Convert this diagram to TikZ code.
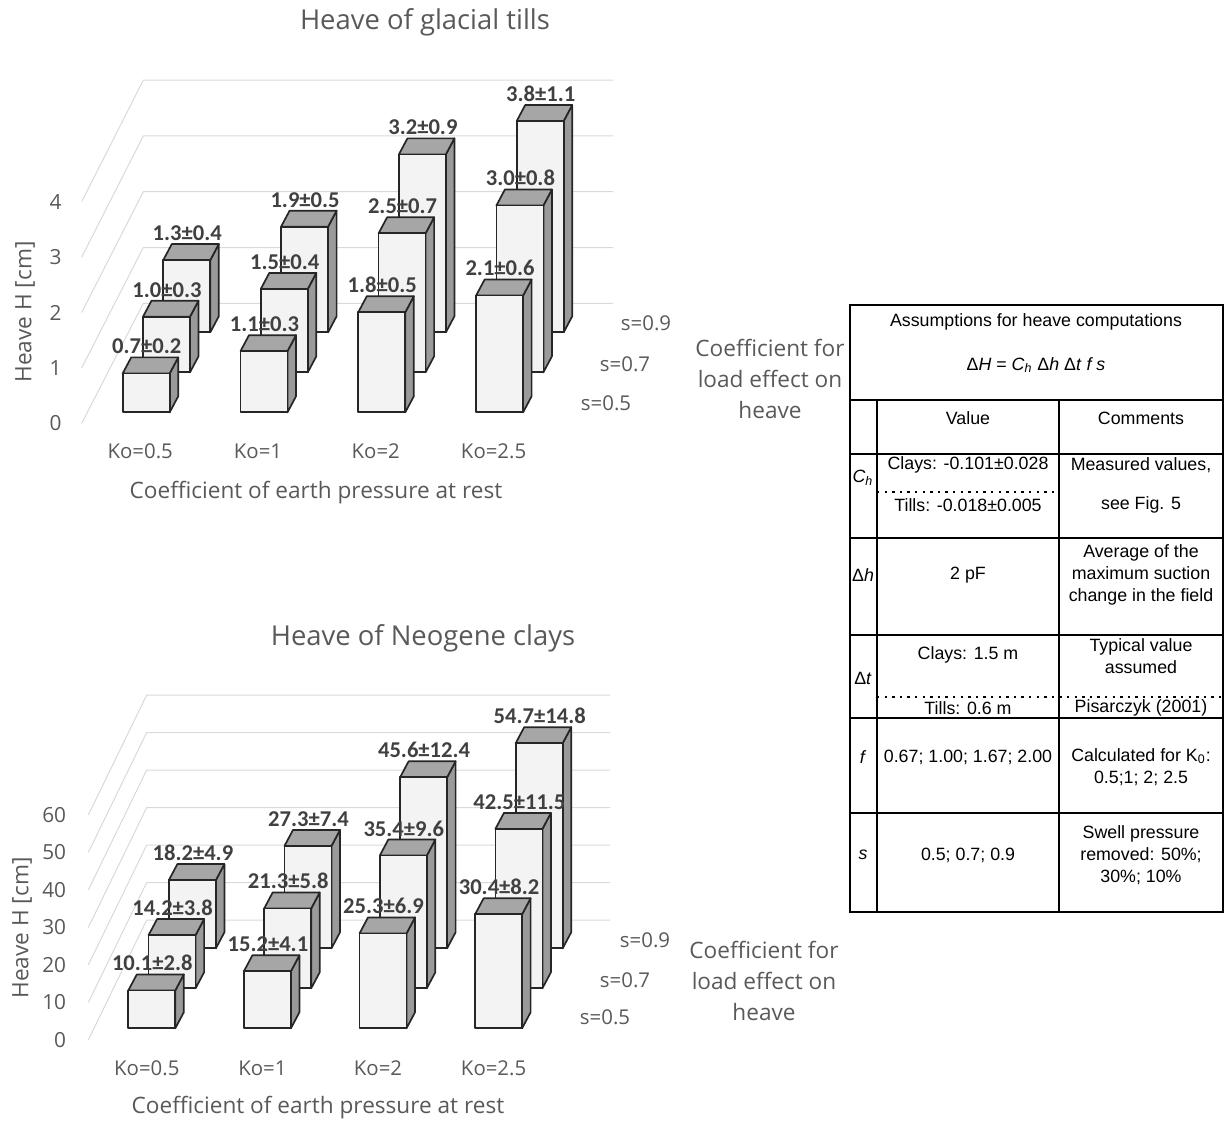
\documentclass[tikz,border=0pt]{standalone}
\usepackage{fontspec}
\setmainfont{Liberation Sans}
\newfontfamily\chartfont{Open Sans}
\newfontfamily\labelfont{Carlito}
\definecolor{axisgray}{HTML}{595959}
\definecolor{gridgray}{HTML}{D9D9D9}
\definecolor{labelgray}{HTML}{404040}
\definecolor{topgray}{HTML}{A6A6A6}
\definecolor{sidegray}{HTML}{9A9A9A}
\definecolor{facegray}{HTML}{F3F3F3}

\newcommand\tillsbars{2/0/1.3/1.3±0.4, 2/1/1.9/1.9±0.5, 2/2/3.2/3.2±0.9, 2/3/3.8/3.8±1.1,
  1/0/1.0/1.0±0.3, 1/1/1.5/1.5±0.4, 1/2/2.5/2.5±0.7, 1/3/3.0/3.0±0.8,
  0/0/0.7/0.7±0.2, 0/1/1.1/1.1±0.3, 0/2/1.8/1.8±0.5, 0/3/2.1/2.1±0.6}
\newcommand\claysbars{2/0/18.2/18.2±4.9, 2/1/27.3/27.3±7.4, 2/2/45.6/45.6±12.4, 2/3/54.7/54.7±14.8,
  1/0/14.2/14.2±3.8, 1/1/21.3/21.3±5.8, 1/2/35.4/35.4±9.6, 1/3/42.5/42.5±11.5,
  0/0/10.1/10.1±2.8, 0/1/15.2/15.2±4.1, 0/2/25.3/25.3±6.9, 0/3/30.4/30.4±8.2}

\begin{document}
\begin{tikzpicture}[x=0.5pt,y=-0.5pt,
    gridln/.style={gridgray, line width=0.5pt},
    barface/.style={draw=black!85, line width=0.85pt, fill=facegray, line join=round},
    bartop/.style={barface, fill=topgray},
    barside/.style={barface, fill=sidegray},
    vlabel/.style={font=\labelfont\bfseries\fontsize{11.3}{13}\selectfont, text=labelgray, anchor=south, inner sep=0.5pt},
    ticklabel/.style={font=\chartfont\fontsize{10.4}{12}\selectfont, text=axisgray, anchor=east, inner sep=0pt},
    catlabel/.style={font=\chartfont\fontsize{10.2}{12}\selectfont, text=axisgray, inner sep=0pt},
    axtitle/.style={font=\chartfont\fontsize{11.3}{15.5}\selectfont, text=axisgray, align=center, inner sep=0pt},
    charttitle/.style={font=\chartfont\fontsize{13.7}{16}\selectfont, text=axisgray, inner sep=0pt},
    cell/.style={font=\fontsize{8.9}{11}\selectfont, align=center, inner sep=0pt},
    tabline/.style={line width=1pt},
    dotline/.style={line width=0.7pt, dash pattern=on 1.2pt off 2.6pt}]
\useasboundingbox (0,0) rectangle (1225,1121);

% glacial tills
\node[charttitle] (title-t) at (425,22) {Heave of glacial tills};
\foreach \k in {0,...,4}{
  \draw[gridln] (81.7,423.3-55.4*\k) -- (143.3,303.3-55.8*\k) -- (613,303.3-55.8*\k);
  \node[ticklabel] (tick-t\k) at (62,423.3-55.4*\k) {\k};
}
\foreach \j/\i/\v/\t in \tillsbars {
  \pgfmathsetmacro\bx{122.7+117.8*\i+20.3*\j}
  \pgfmathsetmacro\by{412.3-40*\j}
  \pgfmathsetmacro\ty{\by-55.6*\v}
  \draw[barside] (\bx+47,\by) -- (\bx+47,\ty) -- (\bx+55.5,\ty-16) -- (\bx+55.5,\by-16) -- cycle;
  \draw[bartop] (\bx,\ty) -- (\bx+8.5,\ty-16) -- (\bx+55.5,\ty-16) -- (\bx+47,\ty) -- cycle;
  \draw[barface] (\bx,\by) rectangle (\bx+47,\ty);
}
\foreach \j/\i/\v/\t in \tillsbars {
  \pgfmathsetmacro\bx{122.7+117.8*\i+20.3*\j}
  \pgfmathsetmacro\ty{412.3-40*\j-55.6*\v}
  \node[vlabel] (val-t\j\i) at (\bx+24,\ty-18) {\t};
}
\foreach \i/\t in {0/Ko=0.5,1/Ko=1,2/Ko=2,3/Ko=2.5}
  \node[catlabel] (ko-t\i) at (140.2+117.8*\i,451) {\t};
\node[axtitle] (xt-t) at (316,493) {Coefficient of earth pressure at rest};
\node[axtitle, rotate=90] (yt-t) at (25,312) {Heave H [cm]};
\node[catlabel] (s9-t) at (646,323) {s=0.9};
\node[catlabel] (s7-t) at (625,364) {s=0.7};
\node[catlabel] (s5-t) at (606,403) {s=0.5};
\node[axtitle] (load-t) at (770,379) {Coefficient for\\load effect on\\heave};

% neogene clays
\node[charttitle] (title-c) at (423,638) {Heave of Neogene clays};
\foreach \k [evaluate=\k as \lab using int(10*\k)] in {0,...,6}{
  \draw[gridln] (88.3,1040-37.5*\k) -- (146.7,920-37.5*\k) -- (610,920-37.5*\k);
  \node[ticklabel] (tick-c\k) at (66.5,1040-37.5*\k) {\lab};
}
\foreach \j/\i/\v/\t in \claysbars {
  \pgfmathsetmacro\bx{128.3+115.6*\i+20.3*\j}
  \pgfmathsetmacro\by{1028.3-40*\j}
  \pgfmathsetmacro\ty{\by-3.75*\v}
  \draw[barside] (\bx+47,\by) -- (\bx+47,\ty) -- (\bx+55.5,\ty-16) -- (\bx+55.5,\by-16) -- cycle;
  \draw[bartop] (\bx,\ty) -- (\bx+8.5,\ty-16) -- (\bx+55.5,\ty-16) -- (\bx+47,\ty) -- cycle;
  \draw[barface] (\bx,\by) rectangle (\bx+47,\ty);
}
\foreach \j/\i/\v/\t in \claysbars {
  \pgfmathsetmacro\bx{128.3+115.6*\i+20.3*\j}
  \pgfmathsetmacro\ty{1028.3-40*\j-3.75*\v}
  \node[vlabel] (val-c\j\i) at (\bx+24,\ty-18) {\t};
}
\foreach \i/\t in {0/Ko=0.5,1/Ko=1,2/Ko=2,3/Ko=2.5}
  \node[catlabel] (ko-c\i) at (146.8+115.6*\i,1068) {\t};
\node[axtitle] (xt-c) at (318,1108) {Coefficient of earth pressure at rest};
\node[axtitle, rotate=90] (yt-c) at (22,928) {Heave H [cm]};
\node[catlabel] (s9-c) at (645,940) {s=0.9};
\node[catlabel] (s7-c) at (625,980) {s=0.7};
\node[catlabel] (s5-c) at (605,1017) {s=0.5};
\node[axtitle] (load-c) at (764,981) {Coefficient for\\load effect on\\heave};

% table
\draw[tabline] (849.5,305) rectangle (1223,912);
\foreach \y in {399.5,454,537.5,634.5,718,813}
  \draw[tabline] (849.5,\y) -- (1223,\y);
\draw[tabline] (877,399.5) -- (877,912);
\draw[tabline] (1059,399.5) -- (1059,912);
\draw[dotline] (877,492) -- (1059,492);
\draw[dotline] (877,697) -- (1223,697);

\node[cell] (hd) at (1036,322) {Assumptions for heave computations};
\node[cell] (eq) at (1036,365) {Δ\textit{H} = \textit{C\textsubscript{h}} Δ\textit{h} Δ\textit{t} \textit{f s}};
\node[cell] (val) at (968,418) {Value};
\node[cell] (com) at (1141,418) {Comments};
\node[cell] (ch) at (863,478) {\textit{C\textsubscript{h}}};
\node[cell] (ch-a) at (968,465) {Clays: -0.101±0.028};
\node[cell] (ch-b) at (968,505) {Tills: -0.018±0.005};
\node[cell] (ch-c) at (1141,465) {Measured values,};
\node[cell] (ch-d) at (1141,505) {see Fig. 5};
\node[cell] (dh) at (863,575) {Δ\textit{h}};
\node[cell] (dh-a) at (968,575) {2 pF};
\node[cell] (dh-c) at (1141,575) {Average of the\\maximum suction\\change in the field};
\node[cell] (dt) at (863,678) {Δ\textit{t}};
\node[cell] (dt-a) at (968,655) {Clays: 1.5 m};
\node[cell] (dt-b) at (968,708) {Tills: 0.6 m};
\node[cell] (dt-c) at (1141,656) {Typical value\\assumed};
\node[cell] (dt-d) at (1141,708) {Pisarczyk (2001)};
\node[cell] (ff) at (863,757) {\textit{f}};
\node[cell] (ff-a) at (968,757) {0.67; 1.00; 1.67; 2.00};
\node[cell] (ff-c) at (1141,767) {Calculated for K\textsubscript{0}:\\0.5;1; 2; 2.5};
\node[cell] (ss) at (863,855) {\textit{s}};
\node[cell] (ss-a) at (968,855) {0.5; 0.7; 0.9};
\node[cell] (ss-c) at (1141,855) {Swell pressure\\removed: 50\%;\\30\%; 10\%};
\end{tikzpicture}
\end{document}
